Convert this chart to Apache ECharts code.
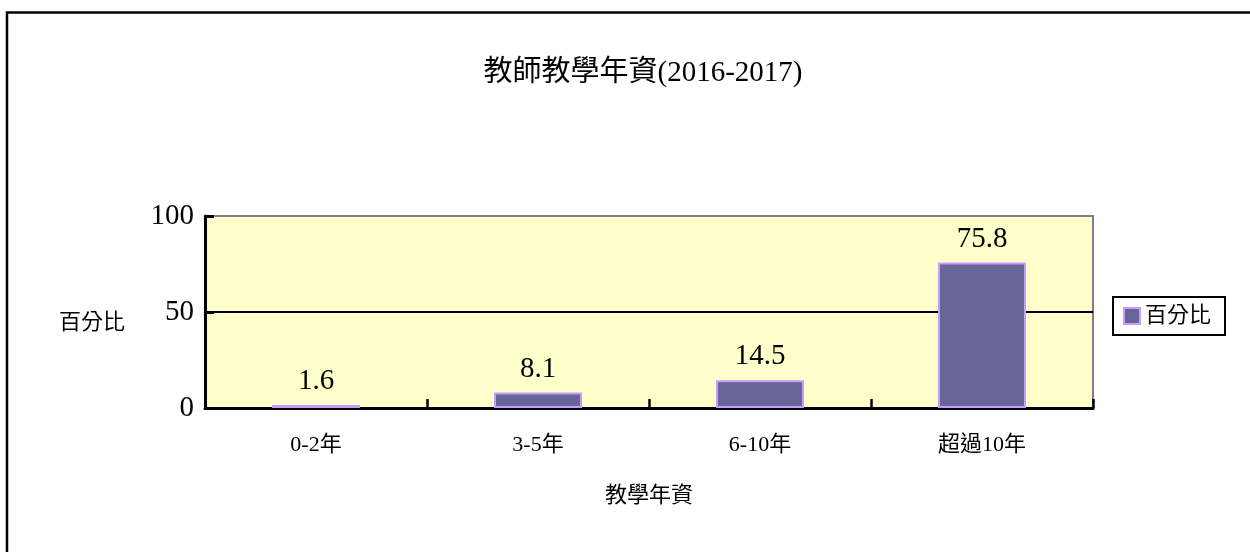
<!DOCTYPE html>
<html>
<head>
<meta charset="utf-8">
<script src="https://cdn.jsdelivr.net/npm/echarts@6/dist/echarts.min.js"></script>
<style>
  html, body { margin: 0; padding: 0; background: #fff; }
  #chart { width: 1250px; height: 552px; }
</style>
</head>
<body>
<div id="chart"></div>
<script>
// 教師教學年資 data
const categories = ["0-2年", "3-5年", "6-10年", "超過10年"];
const percent = [1.6, 8.1, 14.5, 75.8];
const seriesName = "百分比";

const FONT = "'Liberation Serif', 'Noto Sans CJK TC', serif";

const chart = echarts.init(document.getElementById("chart"));

const option = {
  backgroundColor: "#fff",
  animation: false,
  title: {
    text: "教師教學年資(2016-2017)",
    left: 638,
    textAlign: "center",
    top: 54,
    textStyle: { color: "#000", fontSize: 29, fontWeight: "normal", fontFamily: FONT },
  },
  graphic: [
    {
      type: "rect",
      shape: { x: 7, y: 12.5, width: 1300, height: 600 },
      style: { fill: "none", stroke: "#000", lineWidth: 2.5 },
      silent: true,
    },
  ],
  legend: {
    data: [seriesName],
    left: 1113,
    top: 297,
    padding: [8, 14, 8, 10],
    borderColor: "#000",
    borderWidth: 2,
    itemWidth: 16,
    itemHeight: 16,
    itemGap: 6,
    icon: "rect",
    textStyle: { color: "#000", fontSize: 22, fontFamily: FONT },
  },
  grid: {
    left: 205,
    right: 157,
    top: 216,
    bottom: 144,
    show: true,
    backgroundColor: "#FFFFCC",
    borderColor: "#808080",
    borderWidth: 2,
  },
  xAxis: {
    type: "category",
    data: categories,
    name: "教學年資",
    nameLocation: "middle",
    nameGap: 77,
    nameTextStyle: { color: "#000", fontSize: 22, fontFamily: FONT },
    axisLine: { lineStyle: { color: "#000", width: 3 } },
    axisTick: { show: true, inside: true, length: 9, lineStyle: { color: "#000", width: 2.5 } },
    axisLabel: { color: "#000", fontSize: 22, margin: 26, fontFamily: FONT },
  },
  yAxis: {
    type: "value",
    min: 0,
    max: 100,
    interval: 50,
    name: "百分比",
    nameLocation: "middle",
    nameRotate: 0,
    nameGap: 80,
    nameTextStyle: { color: "#000", fontSize: 22, fontFamily: FONT, align: "right", verticalAlign: "top" },
    axisLine: { show: true, lineStyle: { color: "#000", width: 3 } },
    axisTick: { show: true, inside: true, length: 9, lineStyle: { color: "#000", width: 3 } },
    axisLabel: { color: "#000", fontSize: 29, margin: 11, fontFamily: FONT },
    splitLine: {
      show: true,
      lineStyle: { color: ["rgba(0,0,0,0)", "#000", "rgba(0,0,0,0)"], width: 2 },
    },
  },
  series: [
    {
      name: seriesName,
      type: "bar",
      data: percent,
      barWidth: 88,
      itemStyle: { color: "#666699", borderColor: "#CC99FF", borderWidth: 2 },
      label: {
        show: true,
        position: "top",
        distance: 9,
        color: "#000",
        fontSize: 29,
        fontFamily: FONT,
        formatter: (p) => p.value.toFixed(1),
      },
    },
  ],
};

chart.setOption(option);
</script>
</body>
</html>
